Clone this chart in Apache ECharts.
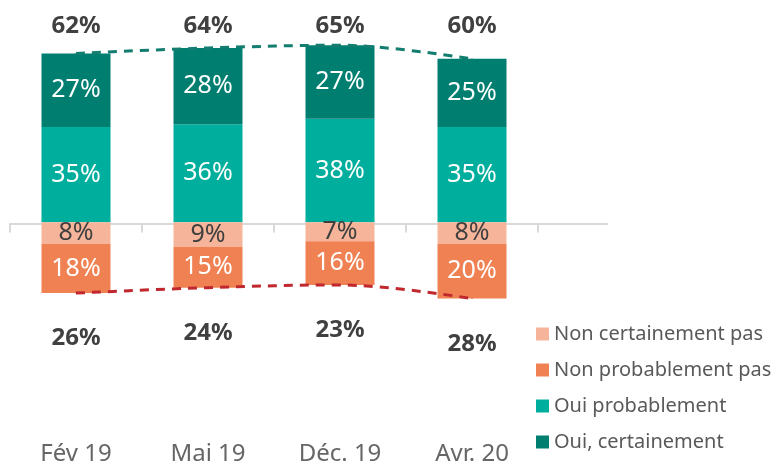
<!DOCTYPE html>
<html>
<head>
<meta charset="utf-8">
<script src="https://cdn.jsdelivr.net/npm/echarts@6/dist/echarts.min.js"></script>
<style>
  html, body { margin: 0; padding: 0; background: #fff; }
  #chart { width: 779px; height: 466px; }
</style>
</head>
<body>
<div id="chart"></div>
<script>
// categories (the last slot is empty in the original)
const categories = ["Fév 19", "Mai 19", "Déc. 19", "Avr. 20", ""];

// series values, in %
const ouiCertainement = [27, 28, 27, 25];
const ouiProbablement = [35, 36, 38, 35];
const nonCertainementPas = [8, 9, 7, 8];
const nonProbablementPas = [18, 15, 16, 20];
const totalOui = [62, 64, 65, 60];
const totalNon = [26, 24, 23, 28];

const legendNames = ["Non certainement pas", "Non probablement pas", "Oui probablement", "Oui, certainement"];

const FONT = "Noto Sans";
const Y_MIN = -77, Y_MAX = 75;

const chart = echarts.init(document.getElementById("chart"));

function pct(p) {
  return Math.abs(p.value) + "%";
}

function barSeries(name, values, color, labelColor, sign) {
  return {
    name: name,
    type: "bar",
    stack: "total",
    xAxisIndex: 0,
    yAxisIndex: 0,
    barWidth: 69,
    data: values.map(v => v * sign),
    itemStyle: { color: color },
    label: {
      show: true,
      position: "inside",
      color: labelColor,
      fontFamily: FONT,
      fontSize: 25,
      formatter: pct,
    },
  };
}

const option = {
  animation: false,
  grid: [
    { left: 10, width: 660, top: 18, height: 416.5 },
    { left: 10, width: 597, top: 18, height: 416.5 },
  ],
  xAxis: [
    {
      type: "category",
      gridIndex: 0,
      data: categories,
      axisLine: { show: false, onZero: false },
      axisTick: { show: false },
      axisLabel: { color: "#666666", fontFamily: FONT, fontSize: 24, margin: 10 },
    },
    {
      // zero line with ticks between categories
      type: "value",
      gridIndex: 1,
      min: 0,
      max: 597 / 132,
      axisLine: { show: true, onZero: true, lineStyle: { color: "#d9d9d9", width: 2 } },
      axisTick: { show: true, length: 9, customValues: [0, 1, 2, 3, 4], lineStyle: { color: "#d9d9d9", width: 2 } },
      axisLabel: { show: false },
      splitLine: { show: false },
    },
  ],
  yAxis: [
    { type: "value", gridIndex: 0, min: Y_MIN, max: Y_MAX, show: false, splitLine: { show: false } },
    { type: "value", gridIndex: 1, min: Y_MIN, max: Y_MAX, show: false, splitLine: { show: false } },
  ],
  legend: {
    data: legendNames,
    orient: "vertical",
    left: 531,
    top: 319,
    icon: "rect",
    itemWidth: 13,
    itemHeight: 13,
    itemGap: 16,
    textStyle: { color: "#595959", fontFamily: FONT, fontSize: 20, lineHeight: 20, padding: [0, 0, 0, 0] },
  },
  series: [
    barSeries("Oui probablement", ouiProbablement, "#00ae9d", "#ffffff", 1),
    barSeries("Oui, certainement", ouiCertainement, "#007f71", "#ffffff", 1),
    barSeries("Non certainement pas", nonCertainementPas, "#f6b59a", "#404040", -1),
    barSeries("Non probablement pas", nonProbablementPas, "#f08152", "#ffffff", -1),
    {
      name: "Total oui",
      type: "line",
      xAxisIndex: 0,
      yAxisIndex: 0,
      data: totalOui,
      smooth: 0.35,
      symbol: "circle",
      symbolSize: 1,
      itemStyle: { color: "#137d6f" },
      lineStyle: { color: "#137d6f", width: 3, type: [9, 7] },
      label: {
        show: true,
        position: "top",
        color: "#404040",
        fontFamily: FONT,
        fontWeight: "bold",
        fontSize: 24,
        formatter: pct,
      },
      labelLayout: { y: 26, align: "center", verticalAlign: "middle" },
      z: 5,
    },
    {
      name: "Total non",
      type: "line",
      xAxisIndex: 0,
      yAxisIndex: 0,
      data: totalNon.map(v => -v),
      smooth: 0.35,
      symbol: "circle",
      symbolSize: 1,
      itemStyle: { color: "#c0282e" },
      lineStyle: { color: "#c0282e", width: 3, type: [9, 7] },
      label: {
        show: true,
        position: "bottom",
        distance: 33,
        color: "#404040",
        fontFamily: FONT,
        fontWeight: "bold",
        fontSize: 24,
        formatter: pct,
      },
      z: 5,
    },
  ],
};

chart.setOption(option);
</script>
</body>
</html>
